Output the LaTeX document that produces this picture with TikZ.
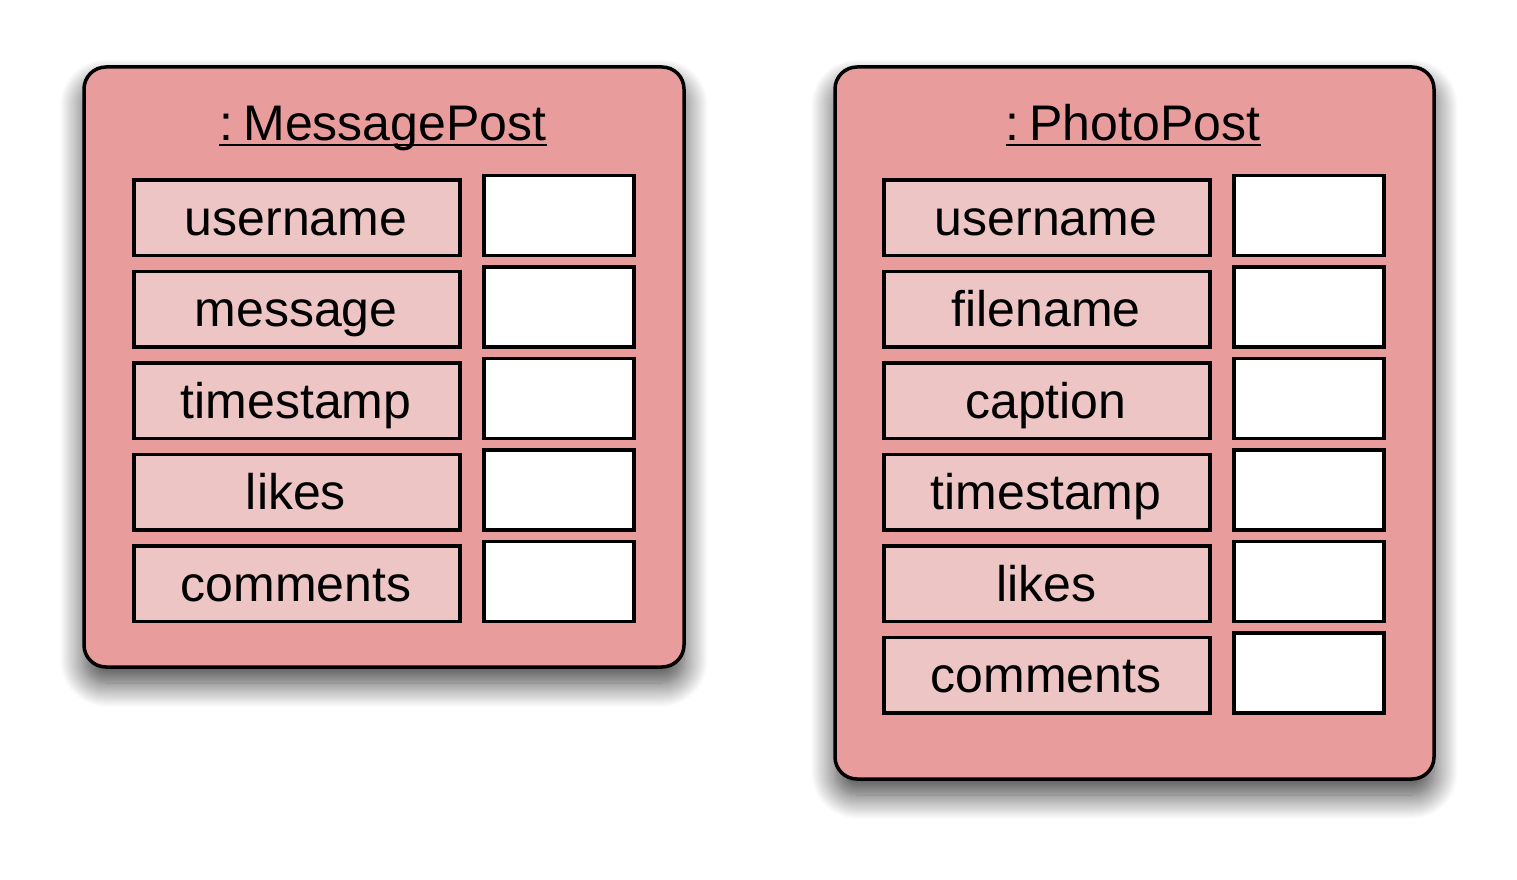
\documentclass[tikz,border=0pt]{standalone}
\usepackage{fontspec}
\setmainfont{Liberation Sans}
\usetikzlibrary{shadows.blur}
\definecolor{outerpink}{RGB}{233,156,156}
\definecolor{innerpink}{RGB}{237,197,196}
\begin{document}
\begin{tikzpicture}[x=1pt,y=-1pt,
  objbox/.style={draw=black,line width=3.5pt,fill=outerpink,rounded corners=22pt,
    blur shadow={shadow xshift=0pt,shadow yshift=-16pt,shadow blur radius=24pt,shadow opacity=75,shadow blur steps=24}},
  fieldbox/.style={draw=black,line width=3.5pt,fill=innerpink},
  valbox/.style={draw=black,line width=3.5pt,fill=white},
  lbl/.style={font=\fontsize{50}{60}\selectfont,anchor=base,inner sep=0pt},
  ttl/.style={font=\fontsize{50}{60}\selectfont,anchor=base,inner sep=0pt}]
\useasboundingbox (0,0) rectangle (1517,880);
% left object
\draw[objbox] (84,67) rectangle (684,667);
\node[ttl] (t1) at (383,140) {:\hspace{0.2em}MessagePost};
\draw[line width=2pt] ([yshift=-5pt]t1.base west) -- ([yshift=-5pt]t1.base east);
\foreach \txt [count=\i from 0] in {username,message,timestamp,likes,comments}{
  \draw[fieldbox] (134,180+91.5*\i) rectangle (460,255.5+91.5*\i);
  \draw[valbox] (484,175.5+91.5*\i) rectangle (634,255.5+91.5*\i);
  \node[lbl] (l\i) at (296,235+91.5*\i) {\txt};
}
% right object
\draw[objbox] (835,67) rectangle (1434,779);
\node[ttl] (t2) at (1133,140) {:\hspace{0.2em}PhotoPost};
\draw[line width=2pt] ([yshift=-5pt]t2.base west) -- ([yshift=-5pt]t2.base east);
\foreach \txt [count=\i from 0] in {username,filename,caption,timestamp,likes,comments}{
  \draw[fieldbox] (884,180+91.5*\i) rectangle (1210,255.5+91.5*\i);
  \draw[valbox] (1234,175.5+91.5*\i) rectangle (1384,255.5+91.5*\i);
  \node[lbl] (r\i) at (1046,235+91.5*\i) {\txt};
}
\end{tikzpicture}
\end{document}
